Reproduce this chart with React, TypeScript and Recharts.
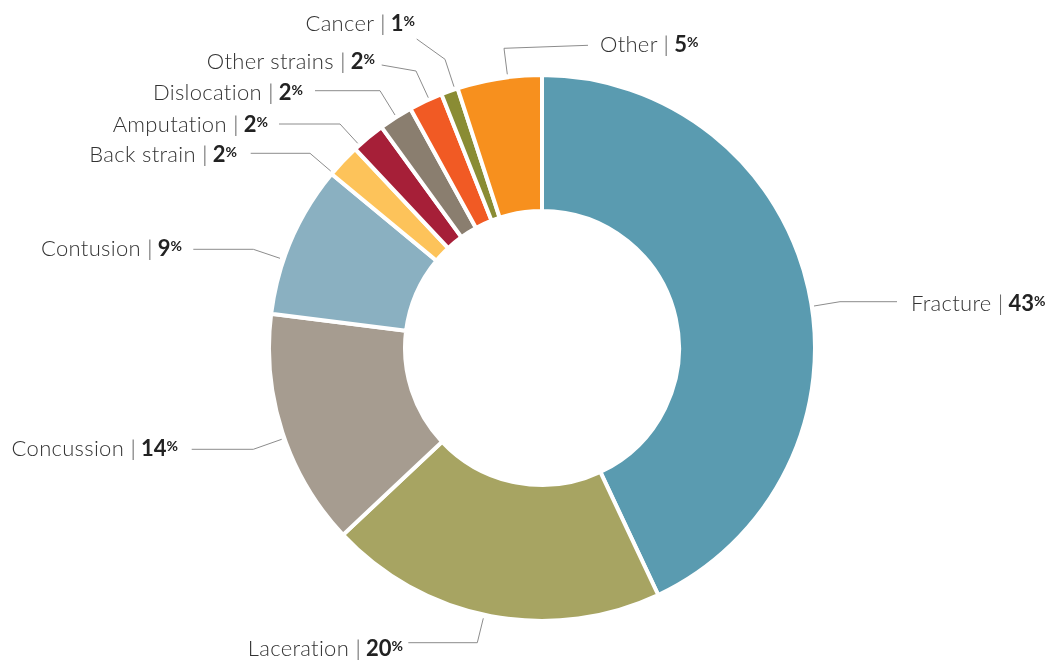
import { PieChart, Pie, Cell } from 'recharts';

const categories = [
  'Fracture',
  'Laceration',
  'Concussion',
  'Contusion',
  'Back strain',
  'Amputation',
  'Dislocation',
  'Other strains',
  'Cancer',
  'Other',
];
const shares = [43, 20, 14, 9, 2, 2, 2, 2, 1, 5];
const colors = [
  '#5a9bb0',
  '#a7a462',
  '#a69c90',
  '#8ab0c1',
  '#fdc35a',
  '#a61f38',
  '#8a7e6f',
  '#f15a24',
  '#8a8c34',
  '#f7901e',
];

// leader line points and label anchor, as offsets from the pie centre
const labelLayout = [
  { pts: [[272, -42], [298, -46.3], [355, -46.3]], tx: 369, ty: -37, anchor: 'start' },
  { pts: [[-58.7, 270.3], [-64.7, 294.7], [-133.7, 294.7]], tx: -139, ty: 308, anchor: 'end' },
  { pts: [[-260.3, 91.3], [-288.7, 101.3], [-350.3, 101.3]], tx: -364, ty: 108, anchor: 'end' },
  { pts: [[-262, -89.7], [-288.7, -98.7], [-348.7, -98.7]], tx: -360, ty: -92, anchor: 'end' },
  { pts: [[-211.3, -177], [-232, -194.7], [-291.3, -194.7]], tx: -305, ty: -186.5, anchor: 'end' },
  { pts: [[-184.3, -204.7], [-202, -224], [-263, -224]], tx: -274, ty: -216.5, anchor: 'end' },
  { pts: [[-147, -233], [-162, -257.3], [-227, -257.3]], tx: -239, ty: -248, anchor: 'end' },
  { pts: [[-113.7, -250.3], [-126, -277], [-160.3, -283]], tx: -167, ty: -279, anchor: 'end' },
  { pts: [[-88, -261.3], [-97, -288.7], [-125.3, -309]], tx: -127, ty: -317, anchor: 'end' },
  { pts: [[-34.7, -273.7], [-38, -299.7], [46, -302.7]], tx: 58, ty: -296, anchor: 'start' },
];

const chartData = categories.map((name, i) => ({ name, value: shares[i] }));

const FONT = 'Lato, "Open Sans", sans-serif';

const renderLabel = (props: any) => {
  const { cx, cy, index, name, value } = props;
  const lay = labelLayout[index];
  if (!lay) return null;
  const points = lay.pts.map(([x, y]) => `${cx + x},${cy + y}`).join(' ');
  return (
    <g key={`lbl-${index}`}>
      <polyline points={points} fill="none" stroke="#8c8c8c" strokeWidth={1} />
      <text
        x={cx + lay.tx}
        y={cy + lay.ty}
        textAnchor={lay.anchor}
        fontFamily={FONT}
        fontSize={22}
        fill="#333"
        stroke="none"
      >
        <tspan fontWeight={300} letterSpacing={0.3}>{name} </tspan>
        <tspan fontWeight={300} fill="#444">|</tspan>
        <tspan fontWeight={700} fill="#222"> {value}</tspan>
        <tspan fontWeight={700} fill="#222" fontSize={14} dy={-5}>%</tspan>
      </text>
    </g>
  );
};

export default function App() {
  return (
    <div style={{ position: 'absolute', left: 0, top: 0, width: 1049, height: 664, willChange: 'transform' }}>
      <PieChart width={1049} height={664} margin={{ top: 0, right: 0, bottom: 0, left: 0 }}>
        <Pie
          data={chartData}
          dataKey="value"
          nameKey="name"
          cx={542}
          cy={348}
          innerRadius={137}
          outerRadius={273}
          startAngle={90}
          endAngle={-270}
          stroke="#fff"
          strokeWidth={4}
          label={renderLabel}
          labelLine={false}
          isAnimationActive={false}
        >
          {chartData.map((d, i) => (
            <Cell key={d.name} fill={colors[i]} />
          ))}
        </Pie>
      </PieChart>
    </div>
  );
}
